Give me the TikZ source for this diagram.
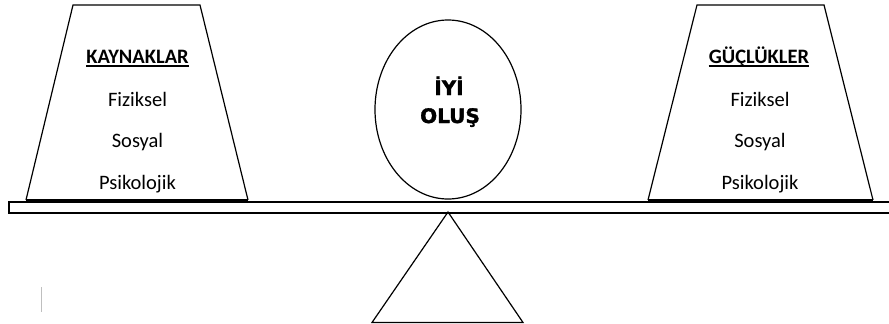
\documentclass[tikz,border=0pt]{standalone}
\usepackage{fontspec}
\setmainfont{Carlito}
\newfontfamily\heavyfont{DejaVu Sans}[BoldFeatures={FakeBold=1.6}]
\usetikzlibrary{shapes.geometric}

\tikzset{
  outline/.style={draw=black, line width=1.2pt, line join=miter},
  base edge/.style={draw=black, line width=2.8pt},
  label/.style={font=\fontsize{20.5}{24}\selectfont, inner sep=0pt, anchor=base},
  heading/.style={label, font=\fontsize{20.5}{24}\selectfont\bfseries},
  bigword/.style={font=\heavyfont\bfseries\fontsize{20}{24}\selectfont, inner sep=0pt, anchor=base},
  underbar/.style={draw=black, line width=1.3pt},
}

\begin{document}
\begin{tikzpicture}[x=1pt, y=-1pt]
  \useasboundingbox (0,0) rectangle (889,324);

  % plank of the seesaw, running off the right edge
  \draw[outline] (900,202) -- (9,202) -- (9,213) -- (900,213);

  % pivot
  \draw[outline] (448,212) -- (523,322.5) -- (372,322.5) -- cycle;

  % left weight
  \draw[outline] (26,200) -- (73,5) -- (200,5) -- (248,200);
  \draw[base edge] (26,200) -- (248,200);
  % right weight
  \draw[outline] (648,200) -- (697,5) -- (824,5) -- (873,200);
  \draw[base edge] (648,200) -- (873,200);

  % ball
  \node[ellipse, outline, minimum width=146pt, minimum height=179pt, inner sep=0pt]
    (ball) at (448,109.5) {};

  % left labels
  \node[heading] (kay) at (137.5,63) {KAYNAKLAR};
  \draw[underbar] ([yshift=-3pt]kay.base west) -- ([yshift=-3pt]kay.base east);
  \node[label] (lfiz) at (137.5,106) {Fiziksel};
  \node[label] (lsos) at (137.5,147) {Sosyal};
  \node[label] (lpsi) at (137.5,189) {Psikolojik};

  % right labels
  \node[heading] (guc) at (759,63) {GÜÇLÜKLER};
  \draw[underbar] ([yshift=-3pt]guc.base west) -- ([yshift=-3pt]guc.base east);
  \node[label] (rfiz) at (760,106) {Fiziksel};
  \node[label] (rsos) at (760,147) {Sosyal};
  \node[label] (rpsi) at (760,189) {Psikolojik};

  % words on the ball
  \node[bigword] (iyi) at (449,95) {İYİ};
  \node[bigword] (olus) at (450,123) {OLUŞ};

  % faint cursor mark
  \draw[black!25, line width=0.8pt] (41,287) -- (41,312);
\end{tikzpicture}
\end{document}
